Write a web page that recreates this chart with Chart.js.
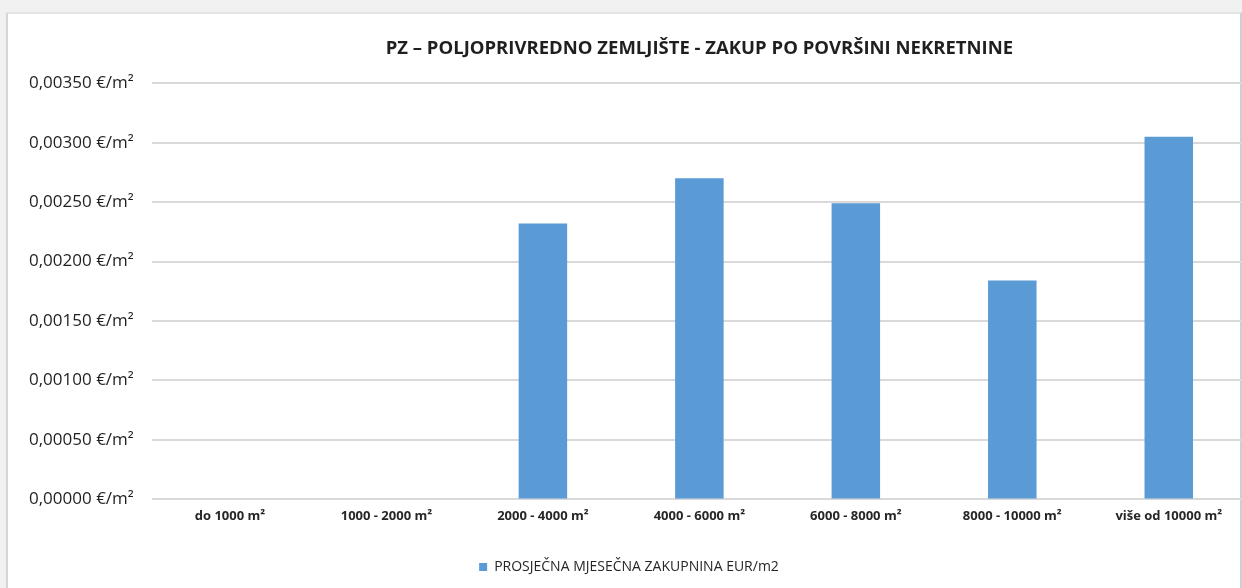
<!DOCTYPE html>
<html>
<head>
<meta charset="utf-8">
<script src="https://cdn.jsdelivr.net/npm/chart.js@4.4.1/dist/chart.umd.min.js"></script>
<style>
  html, body { margin: 0; padding: 0; width: 1242px; height: 588px; overflow: hidden; background: #f1f1f1; }
  .frame {
    position: absolute; left: 6px; top: 12px; width: 1232px; height: 580px;
    background: #fff; border-left: 2px solid #d6d6d6; border-top: 2px solid #e4e4e4; border-right: 2px solid #cfcfcf;
  }
  .wrap { position: absolute; left: 7px; top: 13px; width: 1245px; height: 575px; }
</style>
</head>
<body>
<div class="frame"></div>
<div class="wrap"><canvas id="zakup"></canvas></div>
<script>
  const categories = ['do 1000 m²', '1000 - 2000 m²', '2000 - 4000 m²', '4000 - 6000 m²', '6000 - 8000 m²', '8000 - 10000 m²', 'više od 10000 m²'];
  const avgRent = [null, null, 0.00232, 0.00270, 0.00249, 0.00184, 0.00305];
  const yMax = 0.0035;
  const yStep = 0.0005;

  const ctx = document.getElementById('zakup');

  new Chart(ctx, {
    type: 'bar',
    data: {
      labels: categories,
      datasets: [{
        label: 'PROSJEČNA MJESEČNA ZAKUPNINA EUR/m2',
        data: avgRent,
        backgroundColor: '#5b9bd5',
        barPercentage: 0.31,
        categoryPercentage: 1
      }]
    },
    options: {
      responsive: true,
      maintainAspectRatio: false,
      animation: false,
      layout: { padding: { left: 4, right: 5, bottom: 4 } },
      plugins: {
        title: {
          display: true,
          text: 'PZ – POLJOPRIVREDNO ZEMLJIŠTE - ZAKUP PO POVRŠINI NEKRETNINE',
          fullSize: false,
          color: '#1f1f1f',
          font: { family: 'Open Sans', size: 18.5, weight: 'bold' },
          padding: { top: 25, bottom: 23 }
        },
        legend: {
          position: 'bottom',
          labels: {
            boxWidth: 8, boxHeight: 8,
            color: '#262626',
            font: { family: 'Open Sans', size: 14 },
            padding: 18
          }
        },
        tooltip: { enabled: false }
      },
      scales: {
        x: {
          grid: { display: false },
          border: { display: false },
          // extra room between the category labels and the legend
          afterFit: scale => { scale.height += 17; },
          ticks: {
            color: '#262626',
            padding: 1,
            maxRotation: 0,
            font: { family: 'Open Sans', size: 13, weight: 'bold' }
          }
        },
        y: {
          min: 0, max: yMax,
          grid: { color: '#d9d9d9', lineWidth: 2, drawTicks: false },
          border: { display: false },
          ticks: {
            stepSize: yStep,
            padding: 18,
            color: '#1f1f1f',
            font: { family: 'Open Sans', size: 17 },
            callback: v => v.toFixed(5).replace('.', ',') + ' €/m²'
          }
        }
      }
    }
  });
</script>
</body>
</html>
